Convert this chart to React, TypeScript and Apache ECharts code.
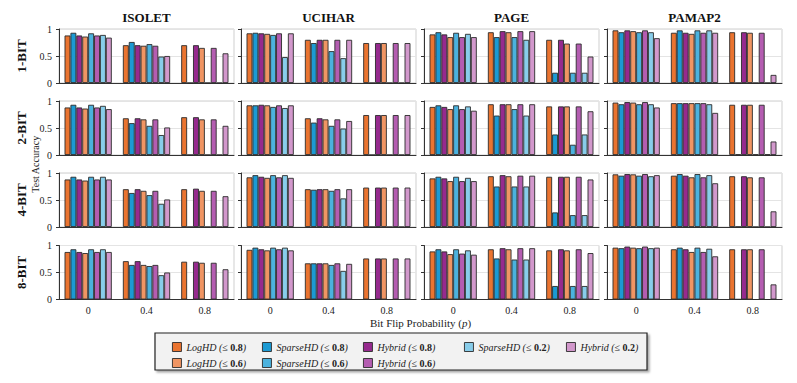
import React, { useEffect, useRef } from "react";
import * as echarts from "echarts";

const CATEGORIES = ["0", "0.4", "0.8"];
const DATASETS = ["ISOLET", "UCIHAR", "PAGE", "PAMAP2"];
const BIT_LABELS = ["1-BIT", "2-BIT", "4-BIT", "8-BIT"];
const SERIES_NAMES = [
  "LogHD (≤ 0.8)",
  "SparseHD (≤ 0.8)",
  "Hybrid (≤ 0.8)",
  "LogHD (≤ 0.6)",
  "SparseHD (≤ 0.6)",
  "Hybrid (≤ 0.6)",
  "SparseHD (≤ 0.2)",
  "Hybrid (≤ 0.2)",
];

// each panel: rows = bit flip probability (0, 0.4, 0.8), columns = series in SERIES_NAMES order
const ISOLET_1 = [
  [0.88, 0.93, 0.88, 0.86, 0.92, 0.88, 0.89, 0.84],
  [0.70, 0.76, 0.70, 0.69, 0.72, 0.69, 0.49, 0.50],
  [0.70, 0, 0.70, 0.65, 0, 0.65, 0, 0.55],
];
const UCIHAR_1 = [
  [0.92, 0.93, 0.92, 0.91, 0.89, 0.92, 0.48, 0.92],
  [0.80, 0.74, 0.80, 0.80, 0.59, 0.80, 0.46, 0.80],
  [0.74, 0, 0.74, 0.74, 0, 0.74, 0, 0.74],
];
const PAGE_1 = [
  [0.90, 0.94, 0.90, 0.85, 0.93, 0.85, 0.91, 0.85],
  [0.94, 0.85, 0.96, 0.94, 0.85, 0.96, 0.80, 0.96],
  [0.80, 0.19, 0.80, 0.73, 0.19, 0.73, 0.19, 0.49],
];
const PAMAP2_1 = [
  [0.975, 0.94, 0.975, 0.96, 0.94, 0.975, 0.94, 0.83],
  [0.93, 0.975, 0.93, 0.91, 0.975, 0.93, 0.975, 0.93],
  [0.94, 0, 0.94, 0.93, 0, 0.93, 0, 0.15],
];
const ISOLET_2 = [
  [0.88, 0.93, 0.88, 0.86, 0.93, 0.88, 0.91, 0.85],
  [0.68, 0.59, 0.68, 0.66, 0.54, 0.66, 0.37, 0.51],
  [0.70, 0, 0.70, 0.66, 0, 0.66, 0, 0.54],
];
const UCIHAR_2 = [
  [0.92, 0.92, 0.93, 0.92, 0.89, 0.92, 0.87, 0.92],
  [0.68, 0.60, 0.68, 0.66, 0.54, 0.66, 0.49, 0.63],
  [0.74, 0, 0.74, 0.74, 0, 0.74, 0, 0.74],
];
const PAGE_2 = [
  [0.89, 0.92, 0.89, 0.85, 0.92, 0.85, 0.90, 0.82],
  [0.94, 0.73, 0.94, 0.94, 0.85, 0.94, 0.73, 0.94],
  [0.90, 0.38, 0.90, 0.90, 0.19, 0.90, 0.38, 0.81],
];
const PAMAP2_2 = [
  [0.97, 0.94, 0.98, 0.97, 0.94, 0.98, 0.94, 0.88],
  [0.96, 0.96, 0.96, 0.96, 0.96, 0.96, 0.94, 0.78],
  [0.93, 0.01, 0.93, 0.93, 0.01, 0.93, 0.01, 0.25],
];
const ISOLET_4 = [
  [0.88, 0.93, 0.88, 0.86, 0.93, 0.88, 0.93, 0.88],
  [0.70, 0.63, 0.70, 0.67, 0.59, 0.67, 0.43, 0.51],
  [0.70, 0, 0.71, 0.67, 0, 0.67, 0, 0.57],
];
const UCIHAR_4 = [
  [0.92, 0.96, 0.93, 0.91, 0.96, 0.92, 0.96, 0.91],
  [0.70, 0.69, 0.70, 0.70, 0.67, 0.70, 0.53, 0.70],
  [0.73, 0, 0.73, 0.73, 0, 0.73, 0, 0.73],
];
const PAGE_4 = [
  [0.90, 0.93, 0.90, 0.85, 0.93, 0.85, 0.91, 0.85],
  [0.94, 0.75, 0.96, 0.94, 0.75, 0.95, 0.75, 0.95],
  [0.93, 0.27, 0.93, 0.93, 0.22, 0.93, 0.22, 0.88],
];
const PAMAP2_4 = [
  [0.975, 0.95, 0.98, 0.975, 0.95, 0.98, 0.94, 0.96],
  [0.95, 0.98, 0.95, 0.92, 0.98, 0.92, 0.96, 0.81],
  [0.94, 0.005, 0.94, 0.92, 0, 0.92, 0, 0.29],
];
const ISOLET_8 = [
  [0.88, 0.93, 0.88, 0.86, 0.93, 0.88, 0.93, 0.88],
  [0.71, 0.64, 0.71, 0.64, 0.62, 0.64, 0.45, 0.50],
  [0.70, 0, 0.70, 0.68, 0, 0.68, 0, 0.56],
];
const UCIHAR_8 = [
  [0.92, 0.96, 0.93, 0.91, 0.96, 0.93, 0.96, 0.91],
  [0.67, 0.67, 0.67, 0.67, 0.64, 0.67, 0.53, 0.66],
  [0.76, 0, 0.76, 0.76, 0, 0.76, 0, 0.76],
];
const PAGE_8 = [
  [0.89, 0.93, 0.89, 0.84, 0.93, 0.85, 0.91, 0.83],
  [0.93, 0.76, 0.95, 0.93, 0.74, 0.95, 0.74, 0.95],
  [0.91, 0.25, 0.93, 0.91, 0.25, 0.93, 0.25, 0.86],
];
const PAMAP2_8 = [
  [0.96, 0.95, 0.98, 0.96, 0.95, 0.98, 0.95, 0.96],
  [0.93, 0.96, 0.93, 0.88, 0.96, 0.88, 0.94, 0.80],
  [0.93, 0.005, 0.93, 0.93, 0, 0.93, 0, 0.28],
];

const PANELS = [
  [ISOLET_1, UCIHAR_1, PAGE_1, PAMAP2_1],
  [ISOLET_2, UCIHAR_2, PAGE_2, PAMAP2_2],
  [ISOLET_4, UCIHAR_4, PAGE_4, PAMAP2_4],
  [ISOLET_8, UCIHAR_8, PAGE_8, PAMAP2_8],
];

const Y_TICK_MAX = 1;
const Y_TICK_INTERVAL = 0.5;

// styling / layout
const COLORS = [
  "#EA7430",
  "#1C9AD3",
  "#962A8E",
  "#F09563",
  "#4BB2DE",
  "#B45DB1",
  "#88CDEA",
  "#D298CC",
];
const FONT = "'Liberation Serif', 'DejaVu Serif', serif";
const GRID_LEFT = [59, 241, 424, 607];
const GRID_TOP = [29, 101, 173, 245.5];
const GRID_W = 175;
const GRID_H = 54;

const LEGEND_COLUMNS = [
  { left: 167, names: [SERIES_NAMES[0], SERIES_NAMES[3]] },
  { left: 257, names: [SERIES_NAMES[1], SERIES_NAMES[4]] },
  { left: 358, names: [SERIES_NAMES[2], SERIES_NAMES[5]] },
  { left: 459, names: [SERIES_NAMES[6]] },
  { left: 561, names: [SERIES_NAMES[7]] },
];

function legendFormatter(name: string) {
  const m = name.match(/^(\S+)( \(≤ )([\d.]+)(\))$/);
  if (!m) return name;
  return `{i|${m[1]}}{i|${m[2]}}{b|${m[3]}}{i|${m[4]}}`;
}

export default function App() {
  const ref = useRef<HTMLDivElement>(null);
  useEffect(() => {
    if (!ref.current) return;
    const chart = echarts.init(ref.current, null, { renderer: "svg" });

    const grid: any[] = [];
    const xAxis: any[] = [];
    const yAxis: any[] = [];
    const series: any[] = [];
    PANELS.forEach((row, r) => {
      row.forEach((panel, c) => {
        const idx = grid.length;
        grid.push({
          left: GRID_LEFT[c],
          top: GRID_TOP[r],
          width: GRID_W,
          height: GRID_H,
          show: true,
          borderColor: "#cfcfcf",
          borderWidth: 1,
          backgroundColor: "transparent",
        });
        xAxis.push({
          gridIndex: idx,
          type: "category",
          data: CATEGORIES,
          axisLine: { lineStyle: { color: "#333", width: 1 } },
          axisTick: { alignWithLabel: true, length: 3, lineStyle: { color: "#333" } },
          axisLabel: {
            show: r === PANELS.length - 1,
            fontFamily: FONT,
            fontSize: 10,
            color: "#222",
            margin: 6,
          },
        });
        yAxis.push({
          gridIndex: idx,
          type: "value",
          min: 0,
          max: Y_TICK_MAX,
          interval: Y_TICK_INTERVAL,
          axisLine: { show: true, lineStyle: { color: "#333", width: 1 } },
          axisTick: { show: true, length: 3, lineStyle: { color: "#333" } },
          axisLabel: {
            show: c === 0,
            fontFamily: FONT,
            fontSize: 10,
            color: "#222",
            margin: 7,
          },
          splitLine: { show: true, lineStyle: { color: "#e4e4e4", width: 1 } },
        });
        SERIES_NAMES.forEach((name, s) => {
          series.push({
            type: "bar",
            name,
            xAxisIndex: idx,
            yAxisIndex: idx,
            data: panel.map((vals) => vals[s]),
            barGap: "0%",
            barCategoryGap: "19%",
            itemStyle: {
              color: COLORS[s],
              borderColor: "#2b2b2b",
              borderWidth: 0.9,
            },
          });
        });
      });
    });

    const graphics: any[] = [];
    DATASETS.forEach((d, c) => {
      graphics.push({
        type: "text",
        x: GRID_LEFT[c] + GRID_W / 2,
        y: 17,
        style: {
          text: d,
          font: `bold 13px ${FONT}`,
          fill: "#111",
          textAlign: "center",
          textVerticalAlign: "middle",
        },
      });
    });
    BIT_LABELS.forEach((b, r) => {
      graphics.push({
        type: "text",
        x: 21,
        y: GRID_TOP[r] + GRID_H / 2,
        rotation: Math.PI / 2,
        style: {
          text: b,
          font: `bold 13px ${FONT}`,
          fill: "#111",
          textAlign: "center",
          textVerticalAlign: "middle",
        },
      });
    });
    graphics.push({
      type: "text",
      x: 35,
      y: (GRID_TOP[0] + GRID_TOP[3] + GRID_H) / 2,
      rotation: Math.PI / 2,
      style: {
        text: "Test Accuracy",
        font: `10px ${FONT}`,
        fill: "#222",
        textAlign: "center",
        textVerticalAlign: "middle",
      },
    });
    graphics.push({
      type: "text",
      x: (GRID_LEFT[0] + GRID_LEFT[3] + GRID_W) / 2,
      y: 323,
      style: {
        text: "Bit Flip Probability ({p|p})",
        font: `11px ${FONT}`,
        fill: "#222",
        textAlign: "center",
        textVerticalAlign: "middle",
        rich: {
          p: { fontFamily: FONT, fontSize: 11, fontStyle: "italic", fill: "#222" },
        },
      },
    });
    graphics.push({
      type: "rect",
      z: -1,
      shape: { x: 155, y: 333, width: 492, height: 37 },
      style: {
        fill: "#f2f2f2",
        stroke: "#222",
        lineWidth: 1.2,
        shadowColor: "rgba(0,0,0,0.35)",
        shadowOffsetX: 2,
        shadowOffsetY: 2,
        shadowBlur: 2,
      },
    });

    const legend = LEGEND_COLUMNS.map((col) => ({
      orient: "vertical",
      left: col.left,
      top: 337,
      itemWidth: 9,
      itemHeight: 9,
      itemGap: 6,
      icon: "rect",
      selectedMode: false,
      data: col.names,
      formatter: legendFormatter,
      itemStyle: { borderColor: "#2b2b2b", borderWidth: 0.9 },
      textStyle: {
        fontFamily: FONT,
        fontSize: 10,
        color: "#222",
        rich: {
          i: { fontFamily: FONT, fontSize: 10, fontStyle: "italic", color: "#222" },
          b: { fontFamily: FONT, fontSize: 10, fontWeight: "bold", color: "#222" },
        },
      },
    }));

    chart.setOption({
      animation: false,
      backgroundColor: "#ffffff",
      grid,
      xAxis,
      yAxis,
      series,
      legend,
      graphic: graphics,
    });
    return () => chart.dispose();
  }, []);
  return <div ref={ref} style={{ width: 797, height: 383, position: "absolute", left: 0, top: 0 }} />;
}
